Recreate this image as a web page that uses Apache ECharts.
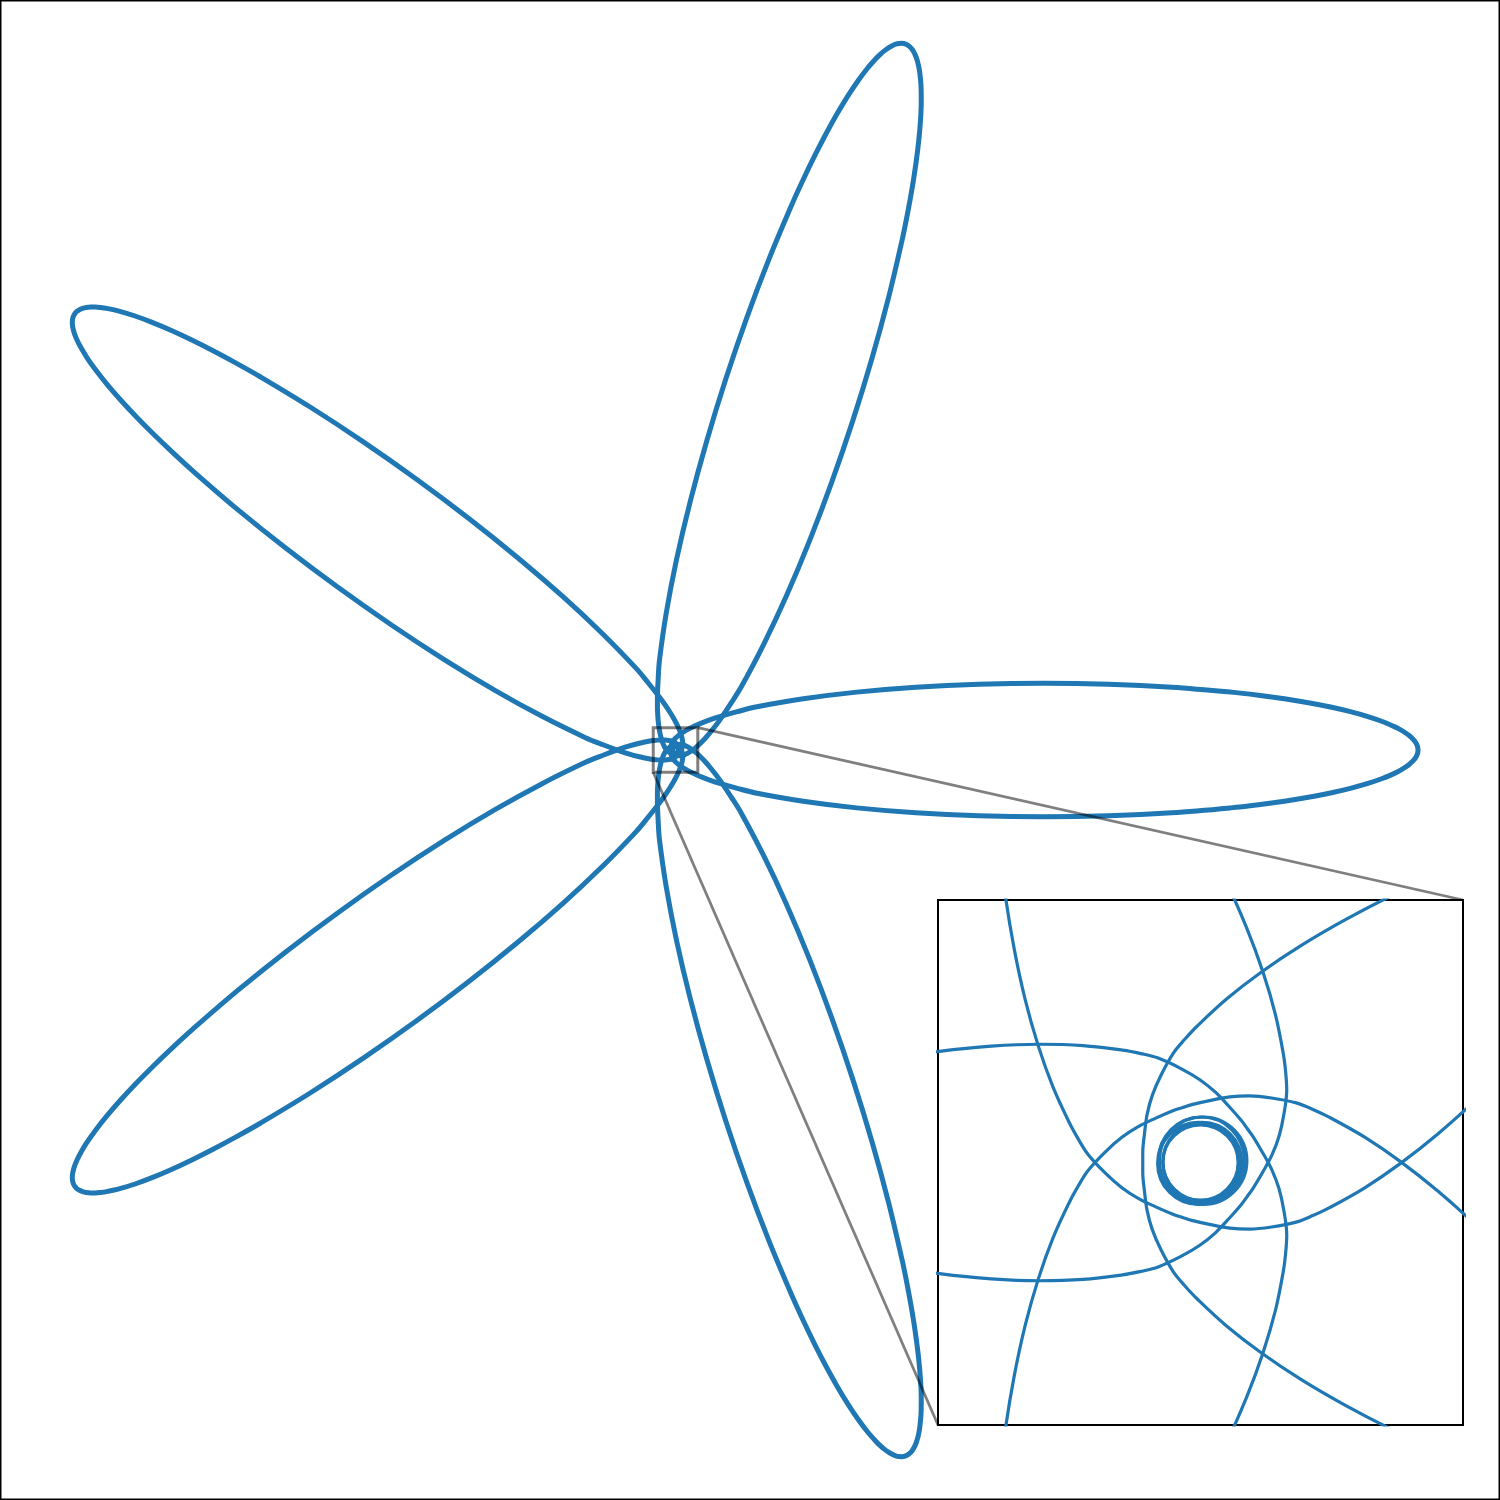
<!DOCTYPE html>
<html><head><meta charset="utf-8">
<script src="https://cdn.jsdelivr.net/npm/echarts@6/dist/echarts.min.js"></script>
<style>html,body{margin:0;padding:0;background:#fff}#c{width:1500px;height:1500px}</style>
</head><body><div id="c"></div>
<script>
// Petal directions (degrees) read from the tips
const petalAngles = [0, 72, 144, 216, 288];
// Outline of one petal (the one pointing right), upper half, tip -> near-centre turning point
const petalX = [1.0, 0.99952, 0.99808, 0.99569, 0.99234, 0.98806, 0.98283, 0.97667, 0.9696, 0.95278, 0.93248, 0.90885, 0.88213, 0.85238, 0.81997, 0.78508, 0.748, 0.66838, 0.58352, 0.496, 0.40848, 0.32362, 0.244, 0.17203, 0.10792, 0.08315, 0.05952, 0.04693, 0.03557, 0.0287, 0.0224, 0.01667, 0.01152, 0.00697, 0.00301, -0.00034, -0.0018, -0.0031, -0.0045, -0.0055, -0.0061, -0.0064, -0.0066, -0.0066];
const petalY = [0, 0.00393, 0.00784, 0.01175, 0.01563, 0.01948, 0.02329, 0.02706, 0.03078, 0.03804, 0.045, 0.05162, 0.05785, 0.06364, 0.06894, 0.07372, 0.07794, 0.08457, 0.08863, 0.09, 0.08863, 0.08457, 0.07794, 0.06894, 0.05785, 0.05162, 0.045, 0.04086, 0.03661, 0.03371, 0.03078, 0.02781, 0.02481, 0.02177, 0.01871, 0.01563, 0.01408, 0.0125, 0.0100, 0.0077, 0.0055, 0.0033, 0.0011, 0];
// Small loops around the centre (centre x, centre y, radius)
const ringCX = [0, 0.0002, -0.0002, 0.0001, 0.0003];
const ringCY = [0, 0.0001, -0.0001, 0.0003, 0.0002];
const ringR  = [0.0043, 0.0045, 0.0047, 0.0049, 0.0050];
// Zoomed region
const zoomMin = -0.03, zoomMax = 0.03;
// Main view limits
const mainX = [-0.9098, 1.1104], mainY = [-1.0101, 1.0101];

const BLUE = '#1f77b4';
function petalLoop(angDeg) {
  const upper = petalX.map((x, i) => [x, petalY[i]]);
  const lower = upper.slice(0, -1).reverse().map(p => [p[0], -p[1]]);
  const all = upper.concat(lower);
  const a = angDeg * Math.PI / 180, c = Math.cos(a), s = Math.sin(a);
  return all.map(p => [p[0] * c - p[1] * s, p[0] * s + p[1] * c]);
}
const ringData = ringCX.map((x, i) => [x, ringCY[i], ringR[i]]);

const series = [];
[0, 1].forEach(g => {
  const lw = g === 0 ? 5 : 3.2;
  petalAngles.forEach(ang => {
    series.push({
      type: 'line', xAxisIndex: g, yAxisIndex: g, data: petalLoop(ang),
      showSymbol: false, symbol: 'none', clip: true, animation: false, smooth: 0.35,
      lineStyle: { color: BLUE, width: lw, join: 'round', cap: 'round' }, z: 2
    });
  });
  series.push({
    type: 'custom', xAxisIndex: g, yAxisIndex: g, data: ringData, clip: true, animation: false, z: 2,
    renderItem: function (params, api) {
      const c = api.coord([api.value(0), api.value(1)]);
      const sz = api.size([api.value(2), api.value(2)]);
      return { type: 'circle', shape: { cx: c[0], cy: c[1], r: sz[0] },
        style: { fill: 'none', stroke: BLUE, lineWidth: lw } };
    }
  });
});

const chart = echarts.init(document.getElementById('c'), null, { renderer: 'canvas' });
const INS = { left: 938, top: 900, size: 525 };
chart.setOption({
  backgroundColor: '#fff',
  animation: false,
  grid: [
    { left: 0, top: 0, width: 1500, height: 1500, show: true, borderColor: '#000', borderWidth: 3, backgroundColor: 'transparent' },
    { left: INS.left, top: INS.top, width: INS.size, height: INS.size, show: true, borderColor: '#000', borderWidth: 2, backgroundColor: '#fff' }
  ],
  xAxis: [
    { type: 'value', gridIndex: 0, min: mainX[0], max: mainX[1], show: false },
    { type: 'value', gridIndex: 1, min: zoomMin, max: zoomMax, show: false }
  ],
  yAxis: [
    { type: 'value', gridIndex: 0, min: mainY[0], max: mainY[1], show: false },
    { type: 'value', gridIndex: 1, min: zoomMin, max: zoomMax, show: false }
  ],
  series: series
});

const p1 = chart.convertToPixel({ gridIndex: 0 }, [zoomMin, zoomMax]);
const p2 = chart.convertToPixel({ gridIndex: 0 }, [zoomMax, zoomMin]);
const q1 = chart.convertToPixel({ gridIndex: 1 }, [zoomMax, zoomMax]);
const q2 = chart.convertToPixel({ gridIndex: 1 }, [zoomMin, zoomMin]);
const GRAY = 'rgba(0,0,0,0.5)';
chart.setOption({
  graphic: [
    { type: 'rect', z: 50, shape: { x: p1[0], y: p1[1], width: p2[0] - p1[0], height: p2[1] - p1[1] },
      style: { fill: 'none', stroke: GRAY, lineWidth: 3 } },
    { type: 'line', z: 50, shape: { x1: p2[0], y1: p1[1], x2: q1[0], y2: q1[1] }, style: { stroke: GRAY, lineWidth: 2.8 } },
    { type: 'line', z: 50, shape: { x1: p1[0], y1: p2[1], x2: q2[0], y2: q2[1] }, style: { stroke: GRAY, lineWidth: 2.8 } }
  ]
});
</script></body></html>
